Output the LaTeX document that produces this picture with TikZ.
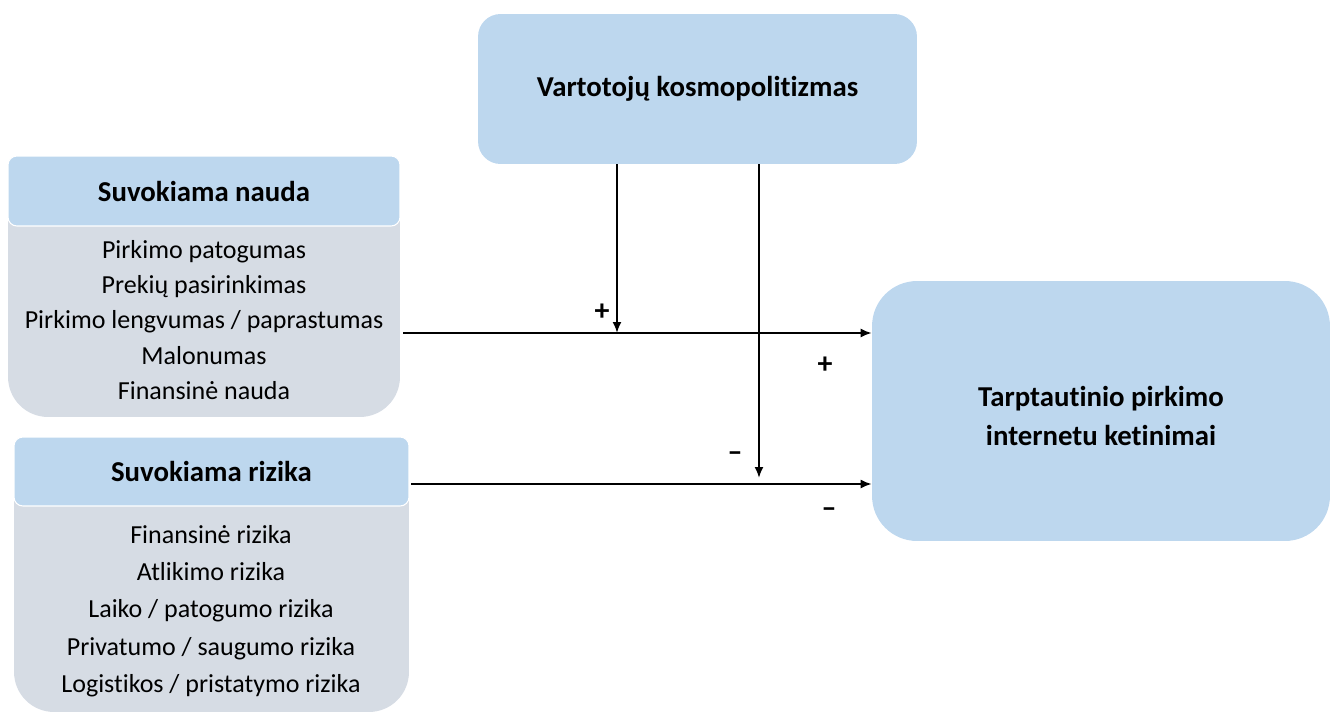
\documentclass[tikz,border=0pt]{standalone}
\usepackage{fontspec}
\setmainfont{Carlito}[Ligatures={NoCommon,NoContextual}]
\usetikzlibrary{arrows.meta,positioning}
\definecolor{boxBlue}{RGB}{189,215,238}
\definecolor{boxGray}{RGB}{214,220,228}

\begin{document}
\begin{tikzpicture}[x=0.02cm, y=-0.02cm,
    bigbox/.style={rectangle, fill=boxBlue, inner sep=0pt, align=center,
                   font=\fontsize{16.4}{22}\selectfont\bfseries},
    head/.style={rectangle, rounded corners=5pt, fill=boxBlue, draw=white,
                 line width=0.6pt, minimum height=1.4cm, inner sep=0pt,
                 font=\fontsize{16.4}{18}\selectfont\bfseries},
    body/.style={rectangle, rounded corners=0.8cm, fill=boxGray, inner sep=0pt},
    items/.style={align=center, inner sep=0pt, font=\fontsize{14.8}{20}\selectfont},
    arr/.style={-{Latex[length=2.2mm,width=1.8mm]}, line width=1.1pt},
    sgn/.style={font=\fontsize{17}{17}\selectfont\bfseries, inner sep=0pt}
  ]
  \useasboundingbox (0,0) rectangle (1336,714);

  % moderatorius ir rezultatas
  \node[bigbox, rounded corners=0.45cm, minimum width=8.78cm, minimum height=3cm]
    (kosm) at (697.5,89) {Vartotojų kosmopolitizmas};
  \node[bigbox, rounded corners=0.9cm, minimum width=9.16cm, minimum height=5.2cm,
        text depth=0pt] (ketin) at (1101,411)
    {\raisebox{-0.2cm}{\shortstack{Tarptautinio pirkimo\\[5pt]internetu ketinimai}}};

  % suvokiama nauda
  \node[body, minimum width=7.84cm, minimum height=5.22cm] (naudaB) at (204,286.5) {};
  \node[head, minimum width=7.84cm] (naudaH) at (204,191) {Suvokiama nauda};
  \node[items] (naudaL) at (204,320) {Pirkimo patogumas\\Prekių pasirinkimas\\
    Pirkimo lengvumas / paprastumas\\Malonumas\\Finansinė nauda};

  % suvokiama rizika
  \node[body, minimum width=7.9cm, minimum height=5.5cm] (rizikaB) at (211.5,574.5) {};
  \node[head, minimum width=7.9cm, minimum height=1.38cm] (rizikaH) at (211.5,471.5) {Suvokiama rizika};
  \node[items, font=\fontsize{14.8}{21.2}\selectfont] (rizikaL) at (211,611)
    {Finansinė rizika\\Atlikimo rizika\\Laiko / patogumo rizika\\
     Privatumo / saugumo rizika\\Logistikos / pristatymo rizika};

  \coordinate (n1) at (403,333);
  \coordinate (r1) at (411,484);
  \coordinate (k1) at (617,164);
  \coordinate (k2) at (759,164);

  \draw[arr] (n1) -- (n1 -| ketin.west);
  \draw[arr] (r1) -- (r1 -| ketin.west);
  \draw[arr] (k1) -- (k1 |- n1);
  \draw[arr] (k2) -- ([yshift=0.12cm]k2 |- r1);

  \node[sgn] (p1) at (602,312) {+};
  \node[sgn] (p2) at (825,365) {+};
  \node[sgn] (m1) at (735,457) {–};
  \node[sgn] (m2) at (829,513) {–};
\end{tikzpicture}
\end{document}
